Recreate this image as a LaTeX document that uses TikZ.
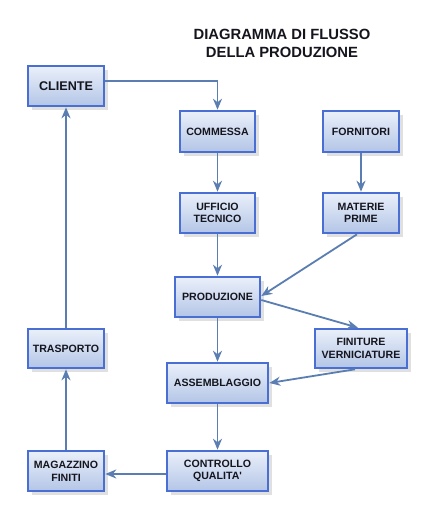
\documentclass[tikz,border=0pt]{standalone}
\usepackage{fontspec}
\newfontfamily\diagfont{Liberation Sans}[BoldFont={Liberation Sans Bold},Ligatures=TeXOff]
\usetikzlibrary{arrows.meta,shadows}
\definecolor{boxborder}{HTML}{4A6FD4}
\definecolor{boxtop}{HTML}{EAF0FA}
\definecolor{boxbot}{HTML}{B3C5E6}
\definecolor{arrowcol}{HTML}{5A7EB2}
\definecolor{txt}{HTML}{15151E}
\tikzset{
  box/.style={draw=boxborder, line width=2.6pt, top color=boxtop, bottom color=boxbot,
    text=txt, font=\diagfont\bfseries\fontsize{10.6}{12.6}\selectfont, align=center,
    inner sep=0pt, drop shadow={shadow xshift=3.5pt, shadow yshift=-3.5pt, fill=black!20, opacity=0.6}},
  conn/.style={draw=arrowcol, line width=1.8pt, -{Stealth[length=11pt,width=9pt]}}
}
\begin{document}
\begin{tikzpicture}[x=1pt,y=-1pt]
\useasboundingbox (0,0) rectangle (440,520);
\fill[white] (0,0) rectangle (440,520);
\node[text=txt, font=\diagfont\bfseries\fontsize{14.8}{18}\selectfont, align=center] (title) at (282,43) {DIAGRAMMA DI FLUSSO\\DELLA PRODUZIONE};
\node[box, minimum width=76pt, minimum height=40pt, font=\diagfont\bfseries\fontsize{12.6}{14}\selectfont] (cliente) at (66,86) {CLIENTE};
\node[box, minimum width=75pt, minimum height=41pt] (commessa) at (217.5,131.5) {COMMESSA};
\node[box, minimum width=76pt, minimum height=41pt] (fornitori) at (361,131.5) {FORNITORI};
\node[box, minimum width=75pt, minimum height=40pt] (ufficio) at (217.5,213) {UFFICIO\\TECNICO};
\node[box, minimum width=76pt, minimum height=40pt] (materie) at (361,213) {MATERIE\\PRIME};
\node[box, minimum width=85pt, minimum height=40pt] (produzione) at (217.5,297) {PRODUZIONE};
\node[box, minimum width=76pt, minimum height=39pt] (trasporto) at (66,348.5) {TRASPORTO};
\node[box, minimum width=92pt, minimum height=39pt] (finiture) at (361,348.5) {FINITURE\\VERNICIATURE};
\node[box, minimum width=101pt, minimum height=40pt] (assemblaggio) at (217.5,383) {ASSEMBLAGGIO};
\node[box, minimum width=76pt, minimum height=40pt] (magazzino) at (66,471) {MAGAZZINO\\FINITI};
\node[box, minimum width=101pt, minimum height=40pt] (controllo) at (217.5,471) {CONTROLLO\\QUALITA'};
\draw[conn] ([yshift=5pt]cliente.east) -| (commessa.north);
\draw[conn] (commessa.south) -- (ufficio.north);
\draw[conn] (fornitori.south) -- (materie.north);
\draw[conn] (ufficio.south) -- (produzione.north);
\draw[conn] ([xshift=-4pt]materie.south) -- ([yshift=1pt]produzione.east);
\draw[conn] ([yshift=-3pt]produzione.east) -- ([xshift=-3pt]finiture.north);
\draw[conn] (produzione.south) -- (assemblaggio.north);
\draw[conn] ([xshift=-6pt]finiture.south) -- (assemblaggio.east);
\draw[conn] (assemblaggio.south) -- (controllo.north);
\draw[conn] ([yshift=-3pt]controllo.west) -- ([yshift=-3pt]magazzino.east);
\draw[conn] (magazzino.north) -- (trasporto.south);
\draw[conn] (trasporto.north) -- (cliente.south);
\end{tikzpicture}
\end{document}
